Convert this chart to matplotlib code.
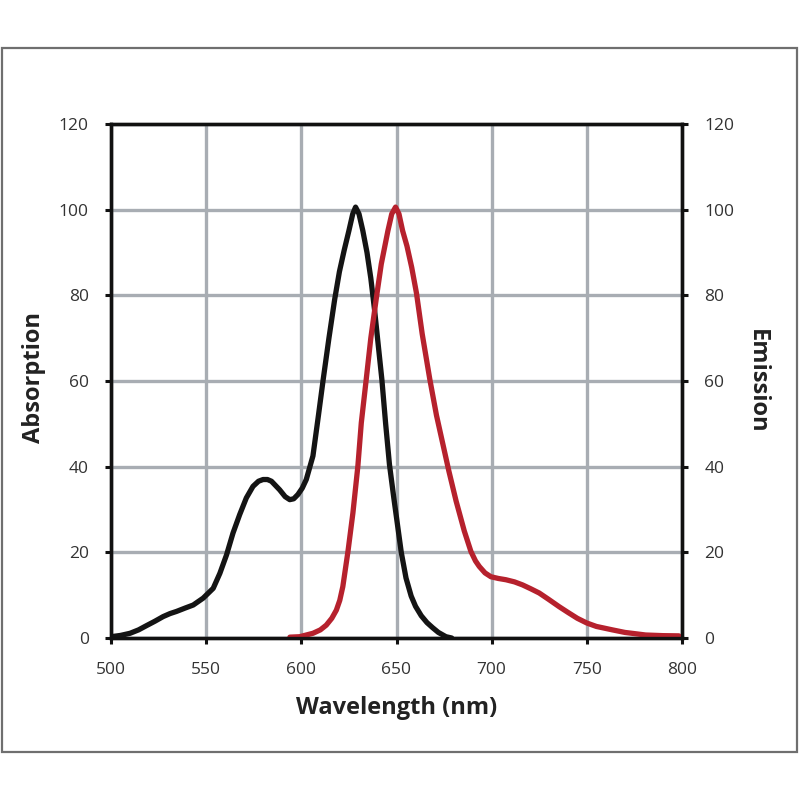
import matplotlib
matplotlib.use("Agg")
import matplotlib.pyplot as plt
from matplotlib.patches import Rectangle

plt.rcParams['font.family'] = ['Open Sans', 'DejaVu Sans']

# Absorption spectrum (black)
abs_wl = [500, 505, 510, 514.5, 518.7, 523, 527.4, 531, 534.4, 539, 543.2, 548.4,
          553.7, 557.2, 560.7, 564.1, 567.6, 571.1, 574.6, 577.5, 579.9, 582.2,
          584.3, 588.6, 591.5, 593.9, 596, 598.2, 600.5, 602.6, 606.1, 609, 611.5,
          614.5, 617.5, 620, 622.5, 625, 627, 628.5, 630.3, 632.3, 634.5, 636.5,
          638.5, 640.5, 642.3, 644.3, 646.3, 648.5, 650.5, 652.5, 655, 657.7, 660,
          663, 666, 669, 672, 676, 679]
abs_val = [0.3, 0.6, 1.1, 1.9, 2.9, 3.9, 5.0, 5.7, 6.2, 7.0, 7.7, 9.3,
           11.6, 15.1, 19.4, 24.5, 28.8, 32.7, 35.4, 36.6, 37.0, 37.0,
           36.6, 34.6, 33.0, 32.3, 32.5, 33.5, 35.0, 37.0, 42.5, 52, 60.4,
           70, 79, 85.5, 90.5, 95.1, 99, 100.6, 99, 95.1, 90, 84,
           76.5, 68, 60.4, 50, 40.5, 33, 26.5, 20.0, 14.0, 9.8, 7.4,
           5.2, 3.6, 2.4, 1.3, 0.3, 0.0]

# Emission spectrum (red)
em_wl = [594, 599.1, 606.1, 610, 613.1, 616, 618.4, 620.2, 621.8, 624.5, 627.1,
         629.7, 631.5, 634.1, 636.5, 639.7, 642, 645.5, 647.5, 649.5, 651.3, 653.2,
         655.5, 658, 660.5, 663.5, 667.5, 671, 674.5, 677.5, 681.3, 685.6, 689.1,
         691.5, 693.5, 696.5, 699.6, 703.5, 707.5, 712, 716.2, 720.5, 725, 730,
         735.5, 740, 745, 750, 755, 763.4, 770, 780.9, 790, 798.4]
em_val = [0.2, 0.3, 1.1, 1.9, 3.0, 4.6, 6.5, 8.8, 12.0, 20.2, 29.2,
          40.1, 50.2, 60.4, 70, 80.3, 87.3, 95.1, 99, 100.6, 99, 95.1,
          91.5, 86.5, 80.5, 71, 60.4, 52, 45, 39, 32, 25, 20.2,
          18, 16.7, 15.2, 14.3, 13.9, 13.6, 13.1, 12.4, 11.5, 10.5, 9.0,
          7.3, 6.0, 4.6, 3.5, 2.7, 1.9, 1.3, 0.7, 0.55, 0.5]

x_ticks = [500, 550, 600, 650, 700, 750, 800]
y_ticks = [0, 20, 40, 60, 80, 100, 120]

fig = plt.figure(figsize=(8, 8), dpi=100)
fig.patch.set_facecolor('white')

# outer frame
fig.patches.append(Rectangle((1.5/800, 1 - 752/800), 795/800, 704/800,
                             transform=fig.transFigure, fill=False,
                             edgecolor='#6f6f6f', linewidth=1.6))

ax = fig.add_axes([111/800, 1 - 638/800, (682 - 111)/800, (638 - 124)/800])
grid_c = '#a8adb3'
ax.set_xlim(500, 800)
ax.set_ylim(0, 120)
ax.set_xticks(x_ticks)
ax.set_yticks(y_ticks)
ax.grid(True, color=grid_c, linewidth=2.4, zorder=0)
ax.set_axisbelow(True)

ax.plot(abs_wl, abs_val, color='#141414', linewidth=3.8, solid_capstyle='round',
        solid_joinstyle='round', zorder=3)
ax.plot(em_wl, em_val, color='#b6212d', linewidth=3.8, solid_capstyle='round',
        solid_joinstyle='round', zorder=3)

for s in ['left', 'bottom', 'top', 'right']:
    ax.spines[s].set_linewidth(2.4)
    ax.spines[s].set_color('#111111')

ax.tick_params(axis='both', direction='out', length=4, width=2.2, color='#111111',
               labelsize=12.5, labelcolor='#333333')
ax.tick_params(axis='y', pad=12)
ax.tick_params(axis='x', pad=13)

ax2 = ax.twinx()
ax2.set_ylim(0, 120)
ax2.set_yticks(y_ticks)
ax2.tick_params(axis='y', direction='out', length=4, width=2.2, color='#111111',
                labelsize=12.5, labelcolor='#333333', pad=12)
for s in ['left', 'bottom', 'top', 'right']:
    ax2.spines[s].set_linewidth(2.4)
    ax2.spines[s].set_color('#111111')

ax.set_xlabel('Wavelength (nm)', fontsize=17, fontweight='bold', color='#222222', labelpad=13)
fig.text(34/800, 1 - 378/800, 'Absorption', rotation=90, fontsize=17, fontweight='bold',
         color='#222222', ha='center', va='center')
fig.text(757/800, 1 - 381/800, 'Emission', rotation=-90, fontsize=17, fontweight='bold',
         color='#222222', ha='center', va='center')

fig.savefig('out.png', dpi=100)
